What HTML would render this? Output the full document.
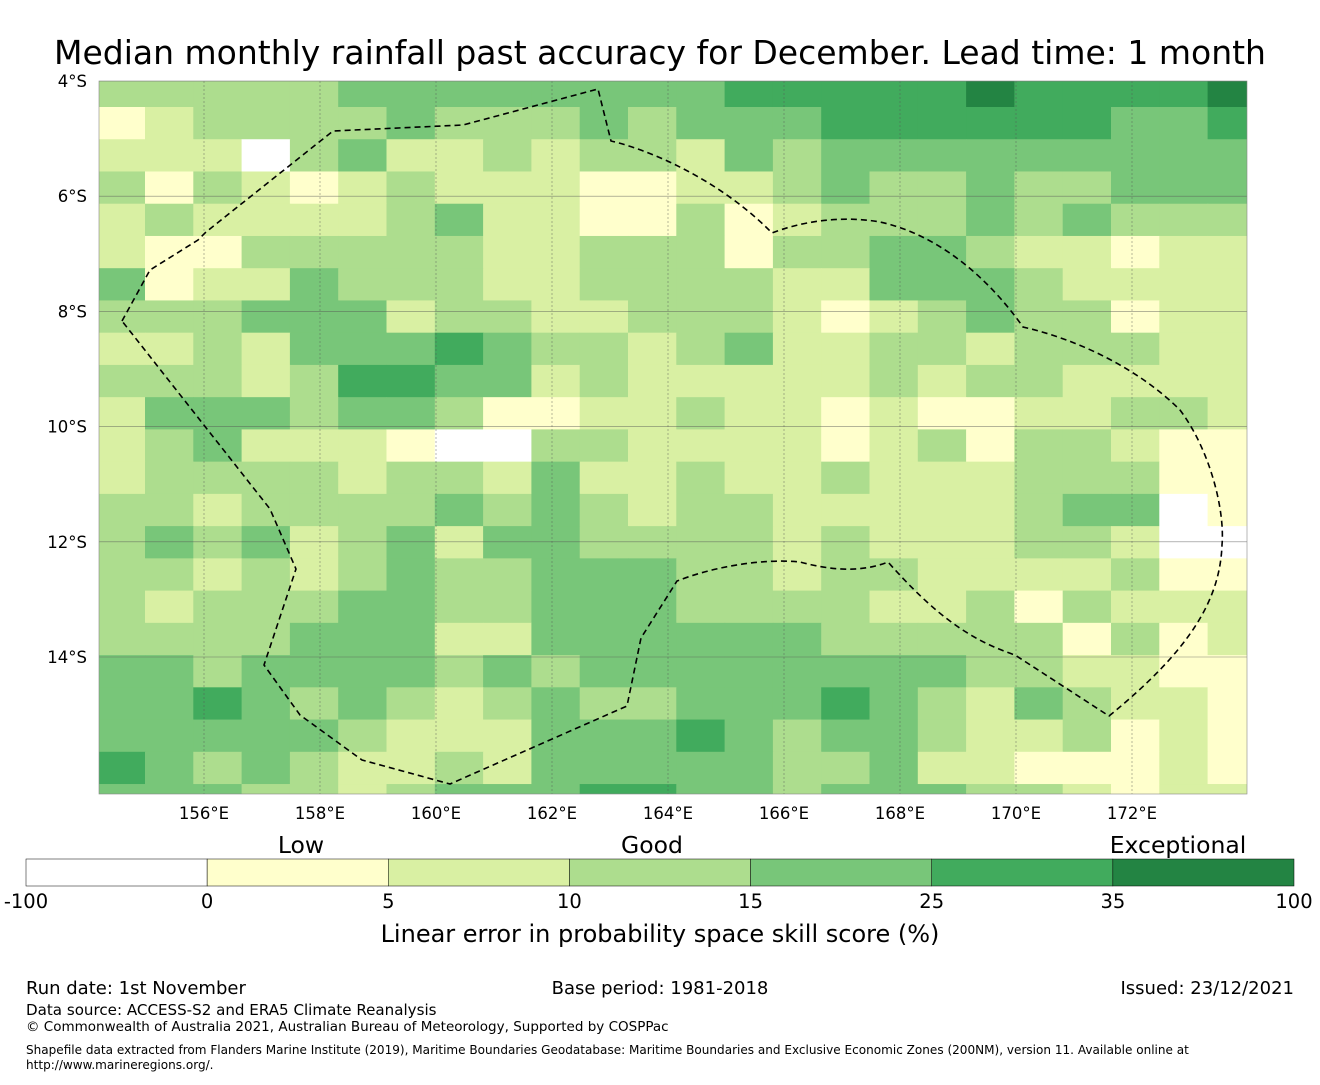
<!DOCTYPE html>
<html><head><meta charset="utf-8"><style>
body{margin:0;background:#fff;}
svg text{font-family:"DejaVu Sans","Liberation Sans",sans-serif;fill:#000;}
</style></head><body>
<svg id="chart" width="1320" height="1080" viewBox="0 0 1320 1080" xmlns="http://www.w3.org/2000/svg">
<defs><clipPath id="mapclip"><rect x="99" y="81" width="1148" height="713"/></clipPath></defs>
<text x="660" y="64" font-size="33" text-anchor="middle">Median monthly rainfall past accuracy for December. Lead time: 1 month</text>
<g id="cells" clip-path="url(#mapclip)"></g>
<g id="grid" clip-path="url(#mapclip)"></g>
<path clip-path="url(#mapclip)" fill="none" stroke="#000" stroke-width="1.6" stroke-dasharray="6,4"
 d="M122,321 L150,270 L198,240 L206,232 L333,131 L463,125 L598,89 L611,141 C650,150 720,180 772,233 C800,222 840,215 880,222 C940,235 990,280 1023,327 C1080,340 1140,370 1180,410 C1210,450 1225,510 1222,545 C1220,600 1190,650 1109,716 L1015,655 C970,640 935,615 888,562 C860,573 830,570 800,562 C760,558 710,568 677,581 L641,638 L627,706 L450,784 L362,760 L300,715 L264,665 L296,569 L270,509 Z"/>
<rect x="99" y="81" width="1148" height="713" fill="none" stroke="#888" stroke-width="0.6"/>
<g id="yticks"></g>
<g id="xticks"></g>
<text x="301" y="853" font-size="23.5" text-anchor="middle">Low</text>
<text x="652" y="853" font-size="23.5" text-anchor="middle">Good</text>
<text x="1178" y="853" font-size="23.5" text-anchor="middle">Exceptional</text>
<g id="cbar"></g>
<text x="660" y="942" font-size="24" text-anchor="middle">Linear error in probability space skill score (%)</text>
<text x="26" y="994" font-size="18">Run date: 1st November</text>
<text x="660" y="994" font-size="18" text-anchor="middle">Base period: 1981-2018</text>
<text x="1294" y="994" font-size="18" text-anchor="end">Issued: 23/12/2021</text>
<text x="26" y="1015" font-size="15.1">Data source: ACCESS-S2 and ERA5 Climate Reanalysis</text>
<text x="26" y="1031" font-size="13.5">© Commonwealth of Australia 2021, Australian Bureau of Meteorology, Supported by COSPPac</text>
<text x="26" y="1054" font-size="12.05">Shapefile data extracted from Flanders Marine Institute (2019), Maritime Boundaries Geodatabase: Maritime Boundaries and Exclusive Economic Zones (200NM), version 11. Available online at</text>
<text x="26" y="1069" font-size="12.05">http://www.marineregions.org/.</text>
</svg>
<script>
const palette = ["#ffffff","#ffffcc","#d9f0a3","#addd8e","#78c679","#41ab5d","#238443"];
const binEdges = ["-100","0","5","10","15","25","35","100"];
const lonTicks = [156,158,160,162,164,166,168,170,172];
const latTicks = [4,6,8,10,12,14];
const rows = [
[3,3,3,3,3,4,4,4, 4,4,4,4,4,5,5,5, 5,5,6,5,5,5,5,6],
[1,2,3,3,3,3,4,3, 3,3,4,3,4,4,4,5, 5,5,5,5,5,4,4,5],
[2,2,2,0,3,4,2,2, 3,2,3,3,2,4,3,4, 4,4,4,4,4,4,4,4],
[3,1,3,2,1,2,3,2, 2,2,1,1,2,2,3,4, 3,3,4,3,3,4,4,4],
[2,3,2,2,2,2,3,4, 2,2,1,1,3,1,2,3, 3,3,4,3,4,3,3,3],
[2,1,1,3,3,3,3,3, 2,2,3,3,3,1,3,3, 4,4,3,2,2,1,2,2],
[4,1,2,2,4,3,3,3, 2,2,3,3,3,3,2,2, 4,4,4,3,2,2,2,2],
[3,3,3,4,4,4,2,3, 3,2,2,3,3,3,2,1, 2,3,4,3,3,1,2,2],
[2,2,3,2,4,4,4,5, 4,3,3,2,3,4,2,2, 3,3,2,3,3,3,2,2],
[3,3,3,2,3,5,5,4, 4,2,3,2,2,2,2,2, 3,2,3,3,2,2,2,2],
[2,4,4,4,3,4,4,3, 1,1,2,2,3,2,2,1, 2,1,1,2,2,3,3,2],
[2,3,4,2,2,2,1,0, 0,3,3,2,2,2,2,1, 2,3,1,3,3,2,1,1],
[2,3,3,3,3,2,3,3, 2,4,2,2,3,2,2,3, 2,2,2,3,3,3,1,1],
[3,3,2,3,3,3,3,4, 3,4,3,2,3,3,2,2, 2,2,2,3,4,4,0,1],
[3,4,3,4,2,3,4,2, 4,4,3,3,3,3,2,3, 2,2,2,3,3,2,0,0],
[3,3,2,3,2,3,4,3, 3,4,4,4,3,3,2,3, 3,2,2,2,2,3,1,1],
[3,2,3,3,3,4,4,3, 3,4,4,4,3,3,3,3, 2,2,3,1,3,2,2,2],
[3,3,3,3,4,4,4,2, 2,4,4,4,4,4,4,3, 3,3,3,3,1,3,1,2],
[4,4,3,4,4,4,4,3, 4,3,4,4,4,4,4,4, 4,4,3,3,2,2,1,1],
[4,4,5,4,3,4,3,2, 3,4,3,3,4,4,4,5, 4,3,2,4,3,2,2,1],
[4,4,4,4,4,3,2,2, 2,4,4,4,5,4,3,4, 4,3,2,2,3,1,2,1],
[5,4,3,4,3,2,2,3, 2,4,4,4,4,4,3,3, 4,2,2,1,1,1,2,1],
[4,4,4,3,3,2,3,4, 4,4,5,5,4,4,3,4, 4,4,3,3,2,1,2,2]
];
const NS="http://www.w3.org/2000/svg";
const xLon = lon => 204 + (lon-156)*58;
const yLat = lat => 81 + (lat-4)*57.6;
const colX = c => 145 + (c-1)*48.3;
const rowY = r => 107 + (r-1)*32.24;
const cellsG=document.getElementById('cells');
rows.forEach((row,r)=>row.forEach((v,c)=>{
  const el=document.createElementNS(NS,'rect');
  
  
  el.setAttribute('x',colX(c));el.setAttribute('y',rowY(r));
  el.setAttribute('width',48.8);el.setAttribute('height',32.7);
  el.setAttribute('fill',palette[v]);
  cellsG.appendChild(el);
}));
const grid=document.getElementById('grid');
const xt=document.getElementById('xticks'), yt=document.getElementById('yticks');
lonTicks.forEach(l=>{
  const x=xLon(l);
  const ln=document.createElementNS(NS,'line');
  
  
  ln.setAttribute('x1',x);ln.setAttribute('x2',x);ln.setAttribute('y1',81);ln.setAttribute('y2',794);
  ln.setAttribute('stroke','#555');ln.setAttribute('stroke-width','0.6');ln.setAttribute('stroke-dasharray','2,2');ln.setAttribute('opacity','0.7');
  grid.appendChild(ln);
  const t=document.createElementNS(NS,'text');
  
  
  t.setAttribute('x',x);t.setAttribute('y',819);t.setAttribute('font-size','16.5');t.setAttribute('text-anchor','middle');
  t.textContent=l+'°E';xt.appendChild(t);
});
latTicks.forEach(l=>{
  const y=yLat(l);
  const ln=document.createElementNS(NS,'line');
  
  
  ln.setAttribute('x1',99);ln.setAttribute('x2',1247);ln.setAttribute('y1',y);ln.setAttribute('y2',y);
  ln.setAttribute('stroke','#555');ln.setAttribute('stroke-width','0.6');ln.setAttribute('opacity','0.7');
  grid.appendChild(ln);
  const t=document.createElementNS(NS,'text');
  
  
  t.setAttribute('x',87);t.setAttribute('y',y+6);t.setAttribute('font-size','16.5');t.setAttribute('text-anchor','end');
  t.textContent=l+'°S';yt.appendChild(t);
});
const cb=document.getElementById('cbar');
const segW=(1294-26)/7;
for(let i=0;i<7;i++){
  const r=document.createElementNS(NS,'rect');
  
  
  r.setAttribute('x',26+i*segW);r.setAttribute('y',859);r.setAttribute('width',segW);r.setAttribute('height',27);
  r.setAttribute('fill',palette[i]);r.setAttribute('stroke','#000');r.setAttribute('stroke-width','0.5');
  cb.appendChild(r);
}
binEdges.forEach((b,i)=>{
  const t=document.createElementNS(NS,'text');
  
  
  t.setAttribute('x',26+i*segW);t.setAttribute('y',908);t.setAttribute('font-size','19.5');t.setAttribute('text-anchor','middle');
  t.textContent=b;cb.appendChild(t);
});
</script>
</body></html>
